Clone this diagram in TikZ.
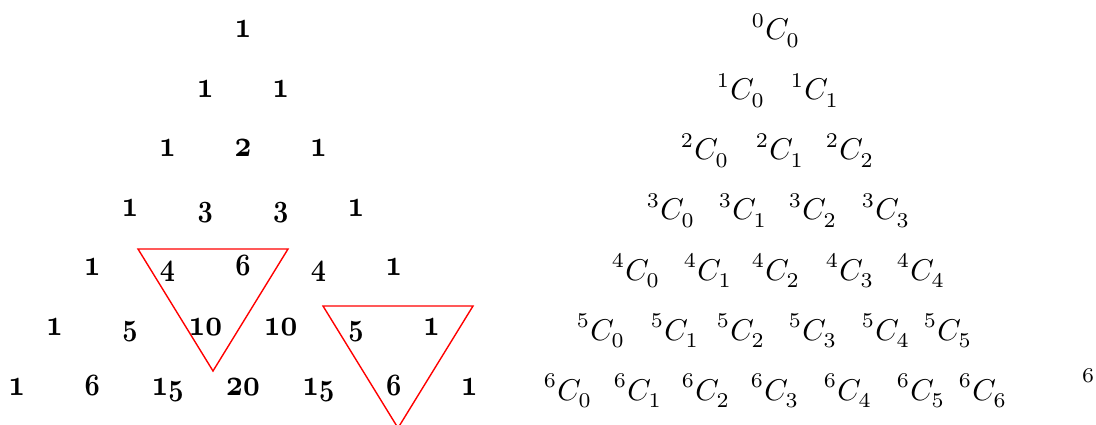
\documentclass[tikz,border=0pt]{standalone}
\usepackage{tikz}
\usepackage{graphicx}
\newcommand\osnum[1]{{\usefont{OML}{cmm}{b}{it}#1}}
\newcommand\sd[1]{\scalebox{1.1}[1.22]{\osnum{#1}}}
\newcommand\cmb[2]{${}^{\raise0.6pt\hbox{$\scriptstyle #1$}}C_{\lower1pt\hbox{$\scriptstyle #2$}}$}
\begin{document}
\begin{tikzpicture}[x=1pt,y=-1pt,
  num/.style={anchor=base,inner sep=0pt,xscale=2.65,yscale=3.1},
  comb/.style={anchor=base,inner sep=0pt,scale=3.0},
  tri/.style={draw=red,line width=1.4pt,line join=miter}]
\useasboundingbox (0,0) rectangle (1096,425);
% left: numeric Pascal triangle
\foreach \row/\vals in {
  0/{{\sd1}},
  1/{{\sd1},{\sd1}},
  2/{{\sd1},{\sd2},{\sd1}},
  3/{{\sd1},{\osnum3},{\osnum3},{\sd1}},
  4/{{\sd1},{\osnum4},{\osnum6},{\osnum4},{\sd1}},
  5/{{\sd1},{\osnum5},{\sd1\sd0},{\sd1\sd0},{\osnum5},{\sd1}},
  6/{{\sd1},{\osnum6},{\sd1\osnum5},{\sd2\sd0},{\sd1\osnum5},{\osnum6},{\sd1}}}{
  \foreach \v [count=\k from 0] in \vals {
    \node[num] (n\row-\k) at ({243+37.7*(2*\k-\row)},{38+59.5*\row}) {\v};
  }
}
% red triangles
\coordinate (a1) at (138,249); \coordinate (a2) at (288,249); \coordinate (a3) at (213,371);
\draw[tri] (a1) -- (a2) -- (a3) -- cycle;
\coordinate (b1) at (323,306); \coordinate (b2) at (473,306); \coordinate (b3) at (398,428);
\draw[tri] (b1) -- (b2) -- (b3) -- cycle;
% right: combinations (left edges of each entry)
\foreach \row/\xs in {0/{753},1/{718,792},2/{682,757,827},3/{648,720,790,863},4/{613,685,753,827,898},5/{578,652,718,790,863,925},6/{545,615,683,752,825,898,960}}{
  \foreach \xx [count=\k from 0] in \xs {
    \node[comb] (c\row-\k) at ({\xx+23},{40+60*\row}) {\cmb{\row}{\k}};
  }
}
\node[comb] (cut) at (1088,382) {$\scriptstyle 6$};
\end{tikzpicture}
\end{document}
